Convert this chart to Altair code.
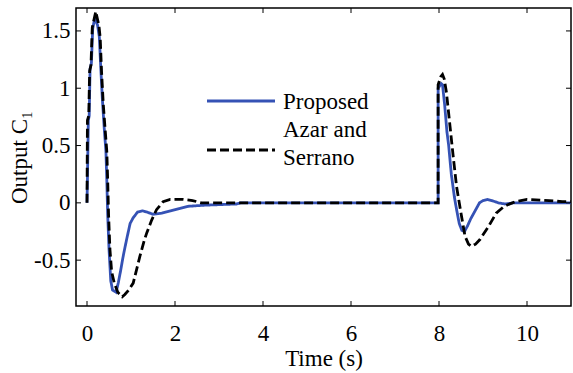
import altair as alt
import pandas as pd

# Response of output C1 for the two controllers
t_prop = [0.00, 0.01, 0.03, 0.05, 0.07, 0.10, 0.13, 0.18, 0.21, 0.24, 0.28, 0.31,
          0.35, 0.39, 0.43, 0.45, 0.47, 0.50, 0.54, 0.58, 0.66, 0.71, 0.76, 0.83,
          0.90, 0.98, 1.05, 1.15, 1.27, 1.36, 1.50, 1.70, 1.90, 2.10, 2.30, 2.70,
          3.40, 3.50, 7.98, 7.98, 8.05, 8.08, 8.13, 8.18, 8.22, 8.28, 8.35, 8.40,
          8.46, 8.52, 8.58, 8.65, 8.72, 8.82, 8.92, 9.00, 9.10, 9.20, 9.35, 9.50,
          9.70, 11.00]
y_prop = [0.00, 0.20, 0.72, 0.76, 1.17, 1.22, 1.52, 1.62, 1.58, 1.55, 1.45, 1.20,
          0.90, 0.66, 0.45, 0.20, -0.10, -0.40, -0.68, -0.76, -0.78, -0.70, -0.60, -0.45,
          -0.32, -0.18, -0.13, -0.08, -0.07, -0.08, -0.10, -0.09, -0.07, -0.05, -0.03, -0.02,
          -0.01, 0.00, 0.00, 1.00, 1.04, 1.03, 0.85, 0.62, 0.50, 0.25, 0.05, -0.06,
          -0.18, -0.24, -0.25, -0.20, -0.14, -0.07, 0.00, 0.02, 0.03, 0.02, 0.00, -0.01,
          0.00, 0.00]

t_azar = [0.00, 0.01, 0.04, 0.06, 0.09, 0.12, 0.20, 0.24, 0.27, 0.30, 0.33, 0.37,
          0.41, 0.45, 0.47, 0.49, 0.52, 0.56, 0.62, 0.70, 0.80, 0.86, 0.95, 1.05,
          1.20, 1.30, 1.36, 1.47, 1.58, 1.73, 1.89, 2.18, 2.40, 2.60, 7.98, 7.98,
          8.04, 8.08, 8.12, 8.17, 8.25, 8.33, 8.40, 8.50, 8.59, 8.67, 8.74, 8.83,
          8.93, 9.12, 9.30, 9.45, 9.54, 9.73, 10.00, 10.50, 10.80, 11.00]
y_azar = [0.00, 0.72, 0.76, 1.15, 1.20, 1.53, 1.67, 1.60, 1.55, 1.44, 1.15, 0.86,
          0.65, 0.45, 0.20, -0.10, -0.40, -0.60, -0.70, -0.78, -0.82, -0.80, -0.76, -0.70,
          -0.47, -0.33, -0.26, -0.15, -0.06, 0.01, 0.03, 0.03, 0.02, 0.00, 0.00, 1.03,
          1.10, 1.12, 1.08, 0.96, 0.67, 0.38, 0.14, -0.09, -0.29, -0.36, -0.38, -0.36,
          -0.32, -0.21, -0.09, -0.04, -0.02, 0.01, 0.03, 0.02, 0.01, 0.01]

series_names = ["Proposed", "Azar and Serrano"]
legend_lines = [["Proposed"], ["Azar and", "Serrano"]]
x_ticks = [0, 2, 4, 6, 8, 10]
y_ticks = [-0.5, 0, 0.5, 1, 1.5]

W, H = 495, 298
FONT = "Liberation Serif"
FS = 23
COLORS = ["#3552B5", "black"]
DASHES = [[1, 0], [9, 4]]

df = pd.concat([
    pd.DataFrame({"t": t_prop, "y": y_prop, "s": series_names[0], "k": range(len(t_prop))}),
    pd.DataFrame({"t": t_azar, "y": y_azar, "s": series_names[1], "k": range(len(t_azar))}),
])

xscale = alt.Scale(domain=[-0.25, 11], nice=False, zero=False)
yscale = alt.Scale(domain=[-0.9, 1.7], nice=False, zero=False)
xaxis = alt.Axis(values=x_ticks, labelExpr="toString(datum.value)")
yaxis = alt.Axis(values=y_ticks, labelExpr="toString(datum.value)")


def X(field):
    return alt.X(field, type="quantitative", scale=xscale, axis=xaxis, title="Time (s)")


def Y(field):
    return alt.Y(field, type="quantitative", scale=yscale, axis=yaxis, title="Output C₁")


lines = alt.Chart(df).mark_line(strokeWidth=2.8, clip=True).encode(
    x=X("t"),
    y=Y("y"),
    color=alt.Color("s:N", scale=alt.Scale(domain=series_names, range=COLORS), legend=None),
    strokeDash=alt.StrokeDash("s:N", scale=alt.Scale(domain=series_names, range=DASHES),
                              legend=None),
    order="k:Q",
)

# Inward-pointing tick marks on all four sides of the box
xt = pd.DataFrame({"v": x_ticks})
yt = pd.DataFrame({"v": y_ticks})
TL = 5
tick_kw = dict(color="black", strokeWidth=1)
xb = alt.Chart(xt).mark_rule(**tick_kw).encode(x=X("v"), y=alt.value(H), y2=alt.value(H - TL))
xtop = alt.Chart(xt).mark_rule(**tick_kw).encode(x=X("v"), y=alt.value(0), y2=alt.value(TL))
yl = alt.Chart(yt).mark_rule(**tick_kw).encode(y=Y("v"), x=alt.value(0), x2=alt.value(TL))
yr = alt.Chart(yt).mark_rule(**tick_kw).encode(y=Y("v"), x=alt.value(W), x2=alt.value(W - TL))

# Legend box drawn inside the plot
LX0, LX1, LTX = 131, 199, 207
leg_rows = [
    dict(y=93, label=legend_lines[0], ty=[94]),
    dict(y=142, label=legend_lines[1], ty=[122, 150]),
]
leg_layers = []
for i, row in enumerate(leg_rows):
    leg_layers.append(
        alt.Chart(pd.DataFrame({"s": [series_names[i]]})).mark_rule(
            color=COLORS[i], strokeWidth=2.8, strokeDash=DASHES[i]
        ).encode(x=alt.value(LX0), x2=alt.value(LX1), y=alt.value(row["y"]))
    )
    for txt, ty in zip(row["label"], row["ty"]):
        leg_layers.append(
            alt.Chart(pd.DataFrame({"s": [txt]})).mark_text(
                font=FONT, fontSize=FS, color="black", align="left", baseline="middle"
            ).encode(text="s:N", x=alt.value(LTX), y=alt.value(ty))
        )

chart = alt.layer(lines, xb, xtop, yl, yr, *leg_layers).properties(
    width=W, height=H,
    autosize=alt.AutoSizeParams(type="none"),
    padding={"left": 76, "top": 8, "right": 2, "bottom": 67},
    background="white",
).configure_view(
    stroke="black", strokeWidth=1.5
).configure_axis(
    grid=False, domain=False, ticks=False, tickSize=0,
    labelFont=FONT, labelFontSize=FS, labelColor="black",
    titleFont=FONT, titleFontSize=FS, titleFontWeight="normal", titleColor="black",
).configure_axisX(
    labelPadding=16, titlePadding=2,
).configure_axisY(
    labelPadding=6, titlePadding=2,
)

chart.save("out.html", embed_options={"renderer": "svg", "actions": False})
